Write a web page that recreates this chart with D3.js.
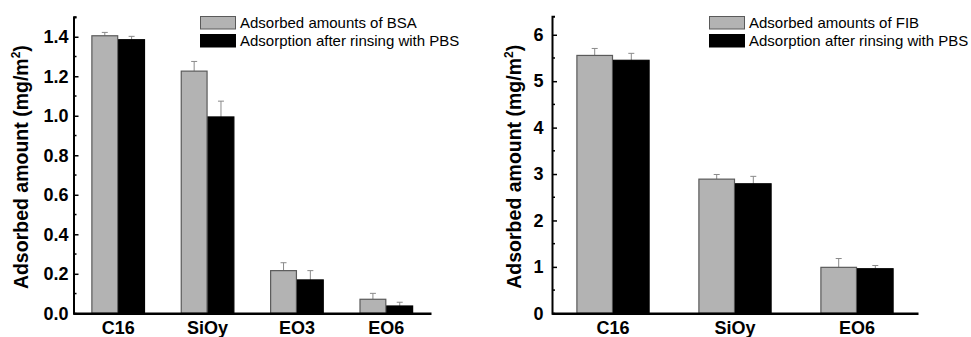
<!DOCTYPE html>
<html>
<head>
<meta charset="utf-8">
<script src="https://cdn.jsdelivr.net/npm/d3@7"></script>
<style>
  body { margin: 0; background: #fff; }
  svg { display: block; font-family: Arial, "Liberation Sans", sans-serif; }
</style>
</head>
<body>
<svg id="chart" width="971" height="337"></svg>
<script>
// left panel: BSA
const bsaCategories = ['C16', 'SiOy', 'EO3', 'EO6'];
const bsaAdsorbed = [1.405, 1.226, 0.216, 0.071];
const bsaAdsorbedErr = [0.017, 0.049, 0.04, 0.03];
const bsaRinsed = [1.385, 0.994, 0.169, 0.037];
const bsaRinsedErr = [0.017, 0.08, 0.047, 0.019];
const bsaTicks = [0, 0.2, 0.4, 0.6, 0.8, 1.0, 1.2, 1.4];
const bsaLegend = ['Adsorbed amounts of BSA', 'Adsorption after rinsing with PBS'];

// right panel: FIB
const fibCategories = ['C16', 'SiOy', 'EO6'];
const fibAdsorbed = [5.555, 2.89, 0.99];
const fibAdsorbedErr = [0.15, 0.10, 0.19];
const fibRinsed = [5.45, 2.79, 0.96];
const fibRinsedErr = [0.15, 0.16, 0.07];
const fibTicks = [0, 1, 2, 3, 4, 5, 6];
const fibLegend = ['Adsorbed amounts of FIB', 'Adsorption after rinsing with PBS'];

const svg = d3.select('#chart');

function drawPanel(opts) {
  const g = svg.append('g');

  const x = d3.scaleBand()
    .domain(opts.categories)
    .range([opts.left, opts.right])
    .paddingInner(0.4)
    .paddingOuter(0.2);

  const y = d3.scaleLinear()
    .domain([0, opts.yMax])
    .range([opts.bottom, opts.top]);

  const half = x.bandwidth() / 2;

  const series = [
    { values: opts.adsorbed, errs: opts.adsorbedErr, fill: '#b3b3b3', stroke: '#5a5a5a', off: 0 },
    { values: opts.rinsed, errs: opts.rinsedErr, fill: '#000', stroke: '#000', off: half }
  ];

  series.forEach(s => {
    // error bars (upper half only)
    const eb = g.append('g').attr('stroke', '#8a8a8a').attr('stroke-width', 1);
    eb.selectAll('line.v')
      .data(opts.categories)
      .enter().append('line')
      .attr('x1', (d, i) => x(d) + s.off + half / 2)
      .attr('x2', (d, i) => x(d) + s.off + half / 2)
      .attr('y1', (d, i) => y(s.values[i]))
      .attr('y2', (d, i) => y(s.values[i] + s.errs[i]));
    eb.selectAll('line.c')
      .data(opts.categories)
      .enter().append('line')
      .attr('x1', (d, i) => x(d) + s.off + half / 2 - 3)
      .attr('x2', (d, i) => x(d) + s.off + half / 2 + 3)
      .attr('y1', (d, i) => y(s.values[i] + s.errs[i]))
      .attr('y2', (d, i) => y(s.values[i] + s.errs[i]));

    g.append('g').selectAll('rect')
      .data(opts.categories)
      .enter().append('rect')
      .attr('x', d => x(d) + s.off + 0.5)
      .attr('width', half - 1)
      .attr('y', (d, i) => y(s.values[i]))
      .attr('height', (d, i) => y(0) - y(s.values[i]))
      .attr('fill', s.fill)
      .attr('stroke', s.stroke)
      .attr('stroke-width', 1.2);
  });

  // minor ticks on y
  const minor = d3.range(opts.minorStep, opts.yMax + 1e-9, opts.minorStep)
    .filter(v => !opts.ticks.some(t => Math.abs(t - v) < 1e-9));
  g.append('g')
    .selectAll('line')
    .data(minor)
    .enter().append('line')
    .attr('x1', opts.left)
    .attr('x2', opts.left + 3)
    .attr('y1', d => y(d))
    .attr('y2', d => y(d))
    .attr('stroke', '#000')
    .attr('stroke-width', 1.5);

  const yAxis = g.append('g')
    .attr('transform', `translate(${opts.left},0)`)
    .call(d3.axisLeft(y)
      .tickValues(opts.ticks)
      .tickFormat(opts.format)
      .tickSizeInner(-5)
      .tickSizeOuter(-3)
      .tickPadding(opts.tickPad));
  yAxis.select('.domain').attr('stroke-width', 2);
  yAxis.selectAll('.tick line').attr('stroke-width', 1.5);
  yAxis.selectAll('text')
    .attr('font-size', 18)
    .attr('font-weight', 'bold')
    .attr('fill', '#000');

  const xAxis = g.append('g')
    .attr('transform', `translate(0,${opts.bottom})`)
    .call(d3.axisBottom(x).tickSize(0).tickPadding(8));
  xAxis.select('.domain').attr('stroke-width', 2.5);
  xAxis.selectAll('text')
    .attr('font-size', 18)
    .attr('font-weight', 'bold')
    .attr('fill', '#000');

  // y axis title
  const title = g.append('text')
    .attr('transform', `translate(${opts.titleX},${(opts.top + opts.bottom) / 2 + 2}) rotate(-90)`)
    .attr('text-anchor', 'middle')
    .attr('font-size', 19.5)
    .attr('font-weight', 'bold')
    .attr('fill', '#000');
  title.append('tspan').text('Adsorbed amount (mg/m');
  title.append('tspan').attr('font-size', 12).attr('dy', -8).text('2');
  title.append('tspan').attr('dy', 8).text(')');

  // legend
  const lg = g.append('g').attr('transform', `translate(${opts.legendX},16)`);
  opts.legend.forEach((label, i) => {
    lg.append('rect')
      .attr('x', 0.5)
      .attr('y', i * 18 + 0.5)
      .attr('width', 35)
      .attr('height', 12.5)
      .attr('fill', series[i].fill)
      .attr('stroke', series[i].stroke)
      .attr('stroke-width', 1);
    lg.append('text')
      .attr('x', 40)
      .attr('y', i * 18 + 12)
      .attr('font-size', 15)
      .attr('fill', '#000')
      .text(label);
  });
}

drawPanel({
  categories: bsaCategories,
  adsorbed: bsaAdsorbed, adsorbedErr: bsaAdsorbedErr,
  rinsed: bsaRinsed, rinsedErr: bsaRinsedErr,
  ticks: bsaTicks, format: d3.format('.1f'), minorStep: 0.1,
  yMax: 1.5,
  left: 73.5, right: 431, top: 17, bottom: 313.3,
  tickPad: 5, titleX: 28, legendX: 200,
  legend: bsaLegend
});

drawPanel({
  categories: fibCategories,
  adsorbed: fibAdsorbed, adsorbedErr: fibAdsorbedErr,
  rinsed: fibRinsed, rinsedErr: fibRinsedErr,
  ticks: fibTicks, format: d3.format('d'), minorStep: 0.5,
  yMax: 6.4,
  left: 552, right: 918, top: 16.2, bottom: 313.3,
  tickPad: 8.5, titleX: 521, legendX: 709,
  legend: fibLegend
});
</script>
</body>
</html>
